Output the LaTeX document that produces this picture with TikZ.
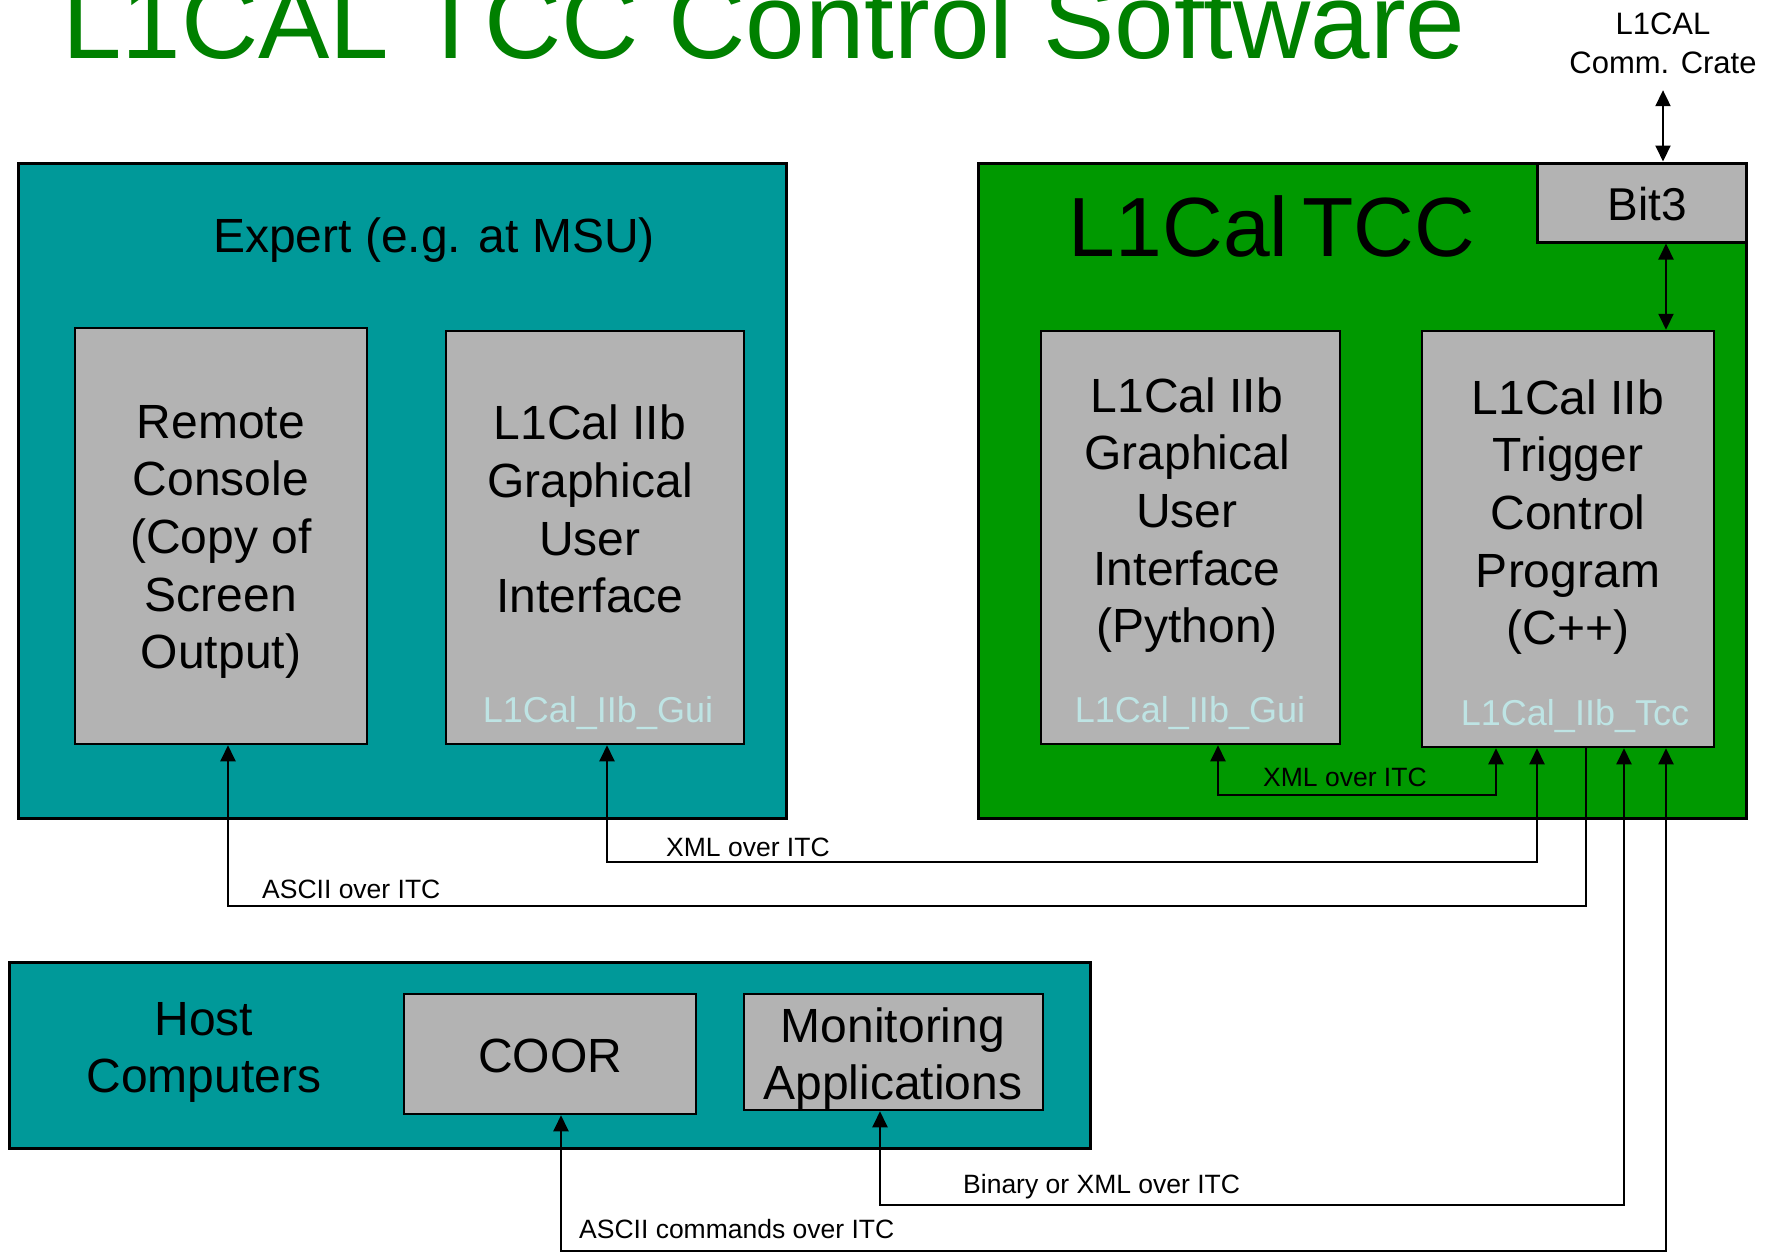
\documentclass[tikz,border=0pt]{standalone}
\usepackage{fontspec}
\setmainfont{Liberation Sans}
\usetikzlibrary{arrows.meta}

\definecolor{expertteal}{RGB}{0,153,153}
\definecolor{tccgreen}{RGB}{0,153,0}
\definecolor{titlegreen}{RGB}{0,128,0}
\definecolor{boxgray}{RGB}{179,179,179}
\definecolor{tagcyan}{RGB}{190,228,228}

\newcommand\setfs[2]{\fontsize{#1}{#2}\selectfont}

\begin{document}
\begin{tikzpicture}[x=1pt,y=-1pt,
  panel/.style={draw=black, line width=3pt, rectangle, inner sep=0pt},
  module/.style={draw=black, line width=2.5pt, rectangle, fill=boxgray, inner sep=0pt},
  boxtext/.style={font=\setfs{48}{57.7}, align=center, inner sep=0pt},
  tag/.style={font=\setfs{36}{40}, text=tagcyan, inner sep=0pt},
  linklabel/.style={font=\setfs{26.5}{30}, anchor=west, inner sep=0pt},
  link/.style={line width=2pt, draw=black},
  dbl/.style={link, {Triangle[width=15pt,length=16pt]}-{Triangle[width=15pt,length=16pt]}},
  into/.style={link, {Triangle[width=15pt,length=16pt]}-},
]
\useasboundingbox[fill=white] (0,0) rectangle (1775,1253);

% heading
\node[anchor=base west, font=\setfs{107}{120}, text=titlegreen, inner sep=0pt] (title) at (62,58) {L1CAL TCC Control Software};

% external crate
\node[font=\setfs{31}{39}, align=center, inner sep=0pt] (crate) at (1663,43.5) {L1CAL\\Comm. Crate};

% expert site
\node[panel, fill=expertteal, minimum width=768pt, minimum height=655pt] (expert) at (402,490.5) {};
\node[font=\setfs{48}{56}, inner sep=0pt] (experttitle) at (434,240) {Expert (e.g. at MSU)};
\node[module, minimum width=292pt, minimum height=416pt] (rc) at (221,536) {};
\node[boxtext] (rctext) at (221,542) {Remote\\Console\\(Copy of\\Screen\\Output)};
\node[module, minimum width=298pt, minimum height=413pt] (gui1) at (595,537.5) {};
\node[boxtext] (gui1text) at (590,509) {L1Cal IIb\\Graphical\\User\\Interface};
\node[tag] (gui1tag) at (598,713) {L1Cal\_IIb\_Gui};

% trigger control computer
\node[panel, fill=tccgreen, minimum width=768pt, minimum height=655pt] (tcc) at (1362,490.5) {};
\node[font=\setfs{84}{90}, inner sep=0pt] (tcctitle) at (1272,226) {L1Cal\,TCC};
\node[module, line width=3pt, minimum width=209pt, minimum height=79pt] (bit3) at (1641.5,202.5) {};
\node[font=\setfs{46}{50}, inner sep=0pt] (bit3text) at (1647,204) {Bit3};
\node[module, minimum width=299pt, minimum height=413pt] (gui2) at (1190.5,537.5) {};
\node[boxtext] (gui2text) at (1187,515) {L1Cal IIb\\Graphical\\User\\Interface\\(Python)};
\node[tag] (gui2tag) at (1190,713) {L1Cal\_IIb\_Gui};
\node[module, minimum width=292pt, minimum height=416pt] (tcp) at (1568,539) {};
\node[boxtext] (tcptext) at (1568,517) {L1Cal IIb\\Trigger\\Control\\Program\\(C++)};
\node[tag] (tcptag) at (1575,716) {L1Cal\_IIb\_Tcc};

% host computers
\node[panel, fill=expertteal, minimum width=1081pt, minimum height=186pt] (host) at (549.5,1055) {};
\node[boxtext, font=\setfs{48}{57}] (hosttext) at (204,1052) {Host\\Computers};
\node[module, minimum width=292pt, minimum height=120pt] (coor) at (550,1054) {};
\node[boxtext] (coortext) at (550,1056) {COOR};
\node[module, minimum width=299pt, minimum height=116pt] (mon) at (893.5,1052) {};
\node[boxtext, font=\setfs{48}{57}] (montext) at (893,1059) {Monitoring\\Applications};

% connections
\draw[dbl] ([yshift=-16pt]crate.south) -- (crate.south |- bit3.north);
\draw[dbl] ([xshift=24.5pt]bit3.south) -- ([xshift=24.5pt]bit3.south |- tcp.north);

\draw[dbl] ([xshift=27.5pt]gui2.south) -- ++(0,50) -| ([xshift=-72pt]tcp.south);
\node[linklabel] (lblxmlin) at (1263,777) {XML over ITC};

\draw[dbl] ([xshift=12pt]gui1.south) -- ++(0,117) -| ([xshift=-31pt]tcp.south);
\node[linklabel] (lblxmlout) at (666,847) {XML over ITC};

\draw[into] ([xshift=7pt]rc.south) -- ++(0,161) -| ([xshift=18pt]tcp.south);
\node[linklabel] (lblascii) at (262,889) {ASCII over ITC};

\draw[dbl] ([xshift=-13.5pt]mon.south) -- ++(0,94) -| ([xshift=56pt]tcp.south);
\node[linklabel] (lblbin) at (963,1187) {Binary or XML over ITC};

\draw[dbl] ([xshift=11pt]coor.south) -- ++(0,135.5) -| ([xshift=98pt]tcp.south);
\node[linklabel] (lblcmd) at (579,1229) {ASCII commands over ITC};
\end{tikzpicture}
\end{document}
